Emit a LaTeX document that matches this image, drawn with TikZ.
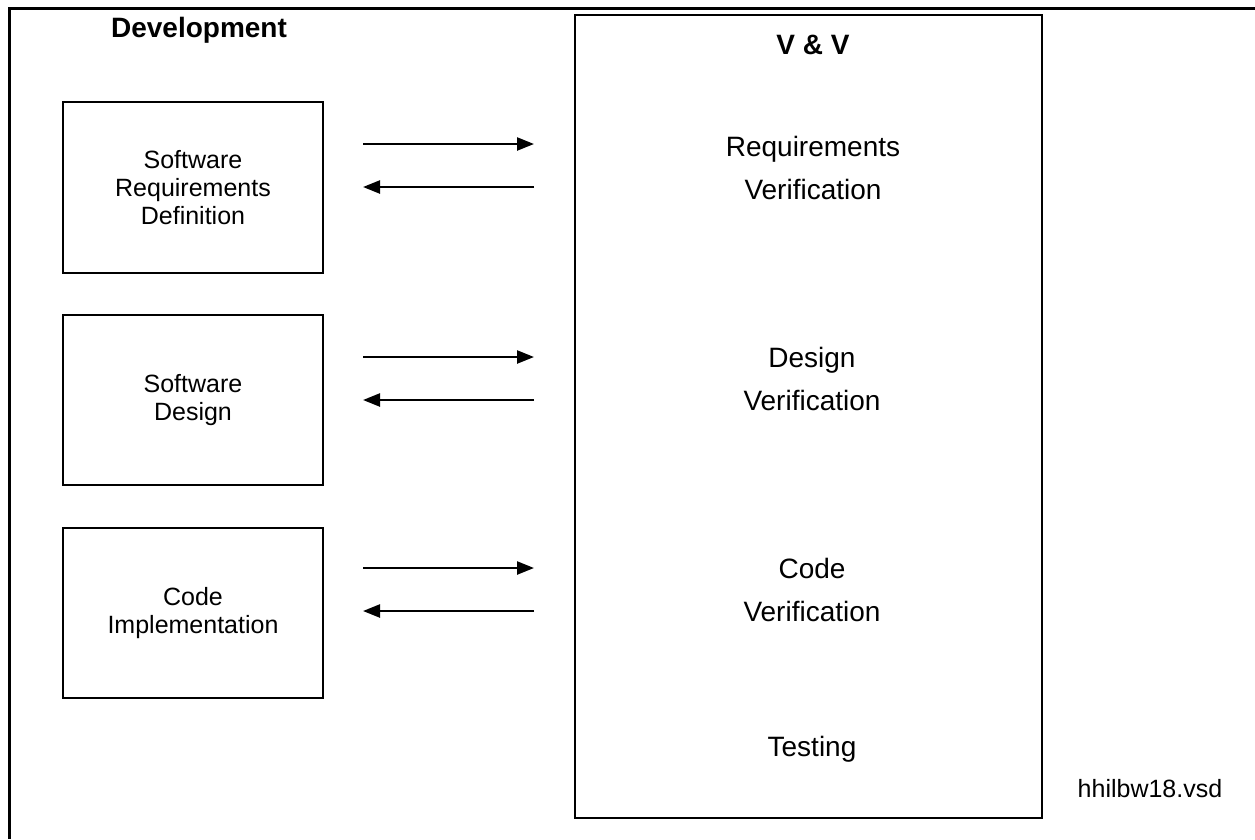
\documentclass[tikz,border=0pt]{standalone}
\usepackage{fontspec}
\setmainfont{Liberation Sans}
\usetikzlibrary{arrows.meta}
\begin{document}
\begin{tikzpicture}[x=1pt,y=-1pt,
  devbox/.style={draw,line width=2.2pt,minimum width=260pt,align=center,
    font=\fontsize{25}{28}\selectfont},
  vvtext/.style={align=center,font=\fontsize{28}{43}\selectfont,inner sep=0pt},
  flow/.style={line width=2.4pt,-{Triangle[length=17pt,width=13pt]}},
  title/.style={font=\fontsize{28}{30}\selectfont\bfseries,inner sep=0pt}]
\useasboundingbox (0,0) rectangle (1255,839);
% outer frame (open on right and bottom)
\draw[line width=3pt] (9,839) -- (9,8) -- (1255,8);
% V&V box
\draw[line width=2.4pt] (575,15) rectangle (1042,818);
% titles
\node[title] (dev) at (199,30) {Development};
\node[title] (vv) at (813,45) {V \& V};
% development boxes
\node[devbox,minimum height=171pt] (b1) at (193,187.5) {Software\\Requirements\\Definition};
\node[devbox,minimum height=170pt] (b2) at (193,400) {Software\\Design};
\node[devbox,minimum height=170pt] (b3) at (193,613) {Code\\Implementation};
% verification texts
\node[vvtext] (r1) at (813,168) {Requirements\\Verification};
\node[vvtext] (r2) at (812,379) {Design\\Verification};
\node[vvtext] (r3) at (812,590) {Code\\Verification};
\node[vvtext] (t) at (812,749) {Testing};
\node[inner sep=0pt,font=\fontsize{25}{28}\selectfont] (fn) at (1150,789) {hhilbw18.vsd};
% arrow end points
\coordinate (a1l) at (363,144); \coordinate (a1r) at (534,144);
\coordinate (c1l) at (363,187); \coordinate (c1r) at (534,187);
\coordinate (a2l) at (363,357); \coordinate (a2r) at (534,357);
\coordinate (c2l) at (363,400); \coordinate (c2r) at (534,400);
\coordinate (a3l) at (363,568); \coordinate (a3r) at (534,568);
\coordinate (c3l) at (363,611); \coordinate (c3r) at (534,611);
\draw[flow] (a1l) -- (a1r);
\draw[flow] (c1r) -- (c1l);
\draw[flow] (a2l) -- (a2r);
\draw[flow] (c2r) -- (c2l);
\draw[flow] (a3l) -- (a3r);
\draw[flow] (c3r) -- (c3l);
\end{tikzpicture}
\end{document}
